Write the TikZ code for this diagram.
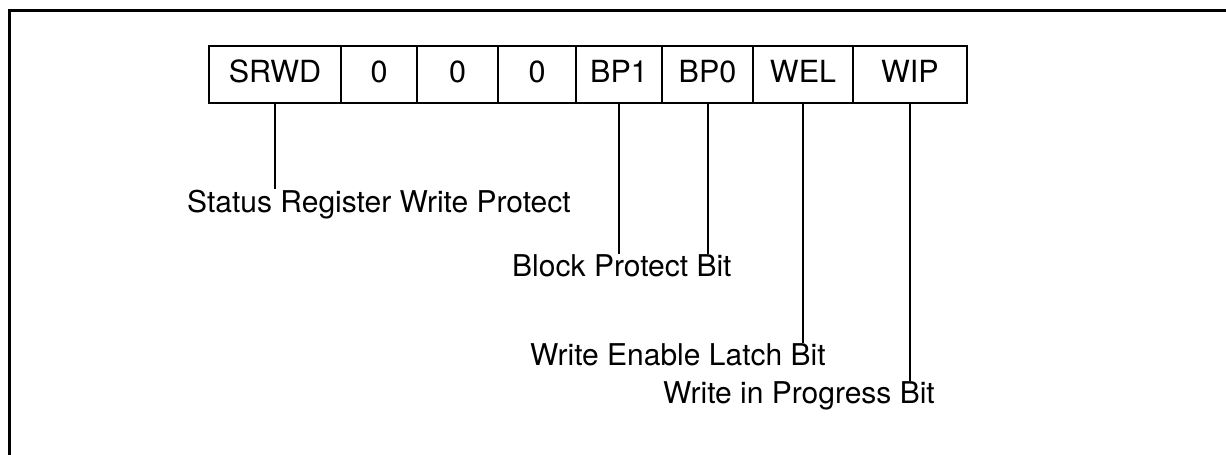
\documentclass[tikz,border=0pt]{standalone}
\usepackage{fontspec}
\setmainfont{TeX Gyre Heros}
\usetikzlibrary{positioning}
\tikzstyle{Cell}=[draw, line width=2pt, minimum height=57pt, inner sep=0pt, outer sep=0pt, text height=22pt, text depth=6pt, font=\fontsize{30.5}{36}\selectfont]
\tikzstyle{Label}=[inner sep=0pt, anchor=base west, font=\fontsize{30}{36}\selectfont]
\tikzstyle{Lead}=[line width=2pt]

\begin{document}
\begin{tikzpicture}[x=1pt, y=-1pt, node distance=0pt]
	\useasboundingbox (0,0) rectangle (1226,455);
	\draw[line width=3pt] (1226,10) -- (9,10) -- (9,455);

	% register cells
	\node[Cell, minimum width=132pt, anchor=west] (srwd) at (209,74.5) {SRWD};
	\node[Cell, minimum width=76pt, right=of srwd] (b6) {0};
	\node[Cell, minimum width=81pt, right=of b6] (b5) {0};
	\node[Cell, minimum width=78pt, right=of b5] (b4) {0};
	\node[Cell, minimum width=86pt, right=of b4] (bp1) {BP1};
	\node[Cell, minimum width=91pt, right=of bp1] (bp0) {BP0};
	\node[Cell, minimum width=100pt, right=of bp0] (wel) {WEL};
	\node[Cell, minimum width=114pt, right=of wel] (wip) {WIP};

	% descriptions
	\node[Label] (srwdtxt) at (187,212) {Status Register Write Protect};
	\node[Label] (bptxt) at (512,276) {Block Protect Bit};
	\node[Label] (weltxt) at (530,365) {Write Enable Latch Bit};
	\node[Label] (wiptxt) at (663,403) {Write in Progress Bit};

	\draw[Lead] (srwd.south) -- (srwd.south |- srwdtxt.north);
	\draw[Lead] (bp1.south) -- (bp1.south |- bptxt.north);
	\draw[Lead] (bp0.south) -- (bp0.south |- bptxt.north);
	\draw[Lead] (wel.south) -- (wel.south |- weltxt.north);
	\draw[Lead] (wip.south) -- (wip.south |- wiptxt.north);
\end{tikzpicture}
\end{document}
